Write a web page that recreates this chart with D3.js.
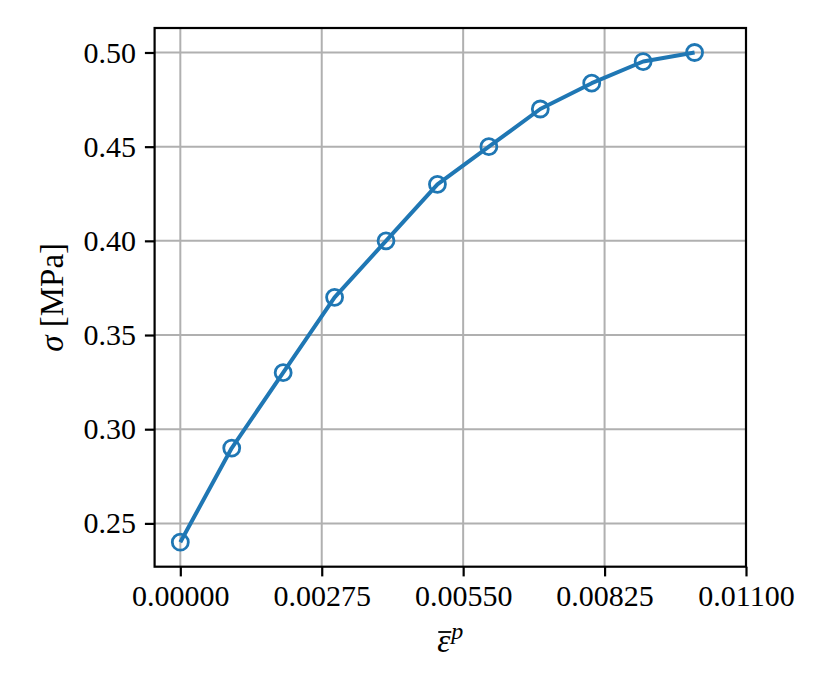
<!DOCTYPE html>
<html>
<head>
<meta charset="utf-8">
<script src="https://cdn.jsdelivr.net/npm/d3@7"></script>
<style>
  html, body { margin: 0; padding: 0; background: #fff; }
  svg text { font-family: "Liberation Serif", "DejaVu Serif", serif; fill: #000; }
</style>
</head>
<body>
<div id="chart"></div>
<script>
'use strict'

// plastic strain vs stress
const strain = [0, 0.001, 0.002, 0.003, 0.004, 0.005, 0.006, 0.007, 0.008, 0.009, 0.010]
const stress = [0.24, 0.29, 0.33, 0.37, 0.40, 0.43, 0.45, 0.47, 0.4837, 0.4952, 0.50]
const xTicks = [0, 0.00275, 0.0055, 0.00825, 0.011]
const yTicks = [0.25, 0.30, 0.35, 0.40, 0.45, 0.50]

const width = 829,
		height = 694
const margin = { left: 154.6, right: 829 - 746, top: 28, bottom: 694 - 566.7 }

const svg = d3.select('#chart').append('svg')
	.attr('width', width)
	.attr('height', height)

const x = d3.scaleLinear()
	.domain([-0.0005, 0.011])
	.range([margin.left, width - margin.right])

const y = d3.scaleLinear()
	.domain([0.227, 0.513])
	.range([height - margin.bottom, margin.top])

const tickLen = 9.7
const fontSize = 30
const labelSize = 33

// grid
svg.append('g').selectAll('line')
	.data(xTicks)
	.enter().append('line')
		.attr('x1', d => x(d)).attr('x2', d => x(d))
		.attr('y1', y.range()[0]).attr('y2', y.range()[1])
		.attr('stroke', '#b0b0b0')
		.attr('stroke-width', 2)

svg.append('g').selectAll('line')
	.data(yTicks)
	.enter().append('line')
		.attr('y1', d => y(d)).attr('y2', d => y(d))
		.attr('x1', x.range()[0]).attr('x2', x.range()[1])
		.attr('stroke', '#b0b0b0')
		.attr('stroke-width', 2)

// axes
const xAxis = svg.append('g')
	.attr('transform', `translate(0,${y.range()[0]})`)
	.call(d3.axisBottom(x).tickValues(xTicks).tickFormat(d3.format('.5f'))
		.tickSizeInner(tickLen).tickSizeOuter(0).tickPadding(8))

const yAxis = svg.append('g')
	.attr('transform', `translate(${x.range()[0]},0)`)
	.call(d3.axisLeft(y).tickValues(yTicks).tickFormat(d3.format('.2f'))
		.tickSizeInner(tickLen).tickSizeOuter(0).tickPadding(9))

for (const a of [xAxis, yAxis]) {
	a.select('.domain').remove()
	a.selectAll('.tick line').attr('stroke', '#000').attr('stroke-width', 2.2)
	a.selectAll('.tick text')
		.style('font-family', '"Liberation Serif", serif')
		.style('font-size', fontSize + 'px')
		.attr('fill', '#000')
}

// frame
svg.append('rect')
	.attr('x', x.range()[0])
	.attr('y', y.range()[1])
	.attr('width', x.range()[1] - x.range()[0])
	.attr('height', y.range()[0] - y.range()[1])
	.attr('fill', 'none')
	.attr('stroke', '#000')
	.attr('stroke-width', 2.2)

// line + markers
const points = strain.map((s, i) => ({ s: s, v: stress[i] }))
const line = d3.line().x(d => x(d.s)).y(d => y(d.v))

svg.append('path')
	.datum(points)
	.attr('d', line)
	.attr('fill', 'none')
	.attr('stroke', '#1f77b4')
	.attr('stroke-width', 4)
	.attr('stroke-linejoin', 'round')

svg.append('g').selectAll('circle')
	.data(points)
	.enter().append('circle')
		.attr('cx', d => x(d.s))
		.attr('cy', d => y(d.v))
		.attr('r', 8)
		.attr('fill', 'none')
		.attr('stroke', '#1f77b4')
		.attr('stroke-width', 2.8)

// y label
svg.append('text')
	.attr('transform', `translate(63,${(y.range()[0] + y.range()[1]) / 2}) rotate(-90)`)
	.attr('text-anchor', 'middle')
	.style('font-size', labelSize + 'px')
	.html('<tspan font-style="italic">σ</tspan> [MPa]')

// x label: eps bar ^ p
const xl = svg.append('text')
	.attr('x', (x.range()[0] + x.range()[1]) / 2)
	.attr('y', 652)
	.attr('text-anchor', 'middle')
	.style('font-size', labelSize + 'px')
const eps = xl.append('tspan').attr('font-style', 'italic').text('ε')
xl.append('tspan').attr('font-style', 'italic').attr('dy', -13).attr('dx', 1).style('font-size', '24px').text('p')

const bb = eps.node().getBBox()
svg.append('line')
	.attr('x1', bb.x + 1).attr('x2', bb.x + bb.width + 1)
	.attr('y1', 632).attr('y2', 632)
	.attr('stroke', '#000')
	.attr('stroke-width', 1.8)
</script>
</body>
</html>
